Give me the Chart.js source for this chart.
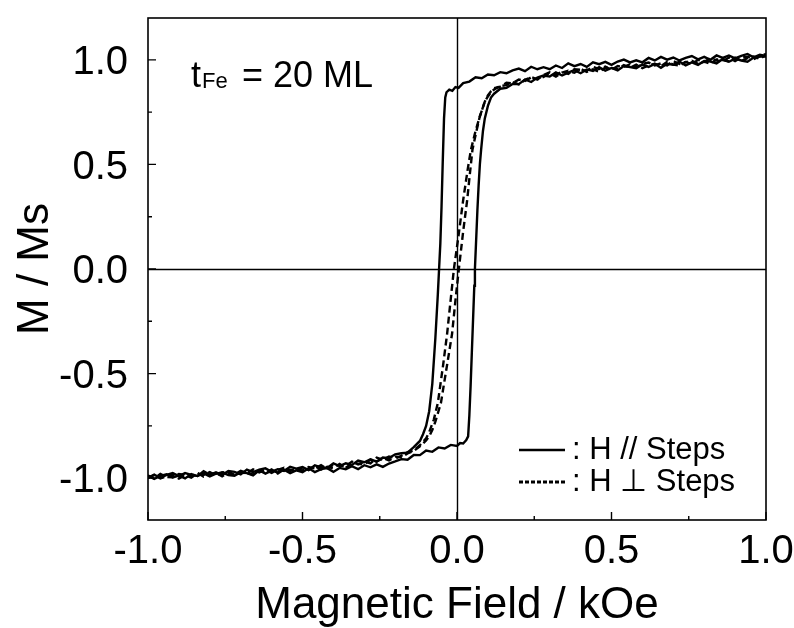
<!DOCTYPE html>
<html>
<head>
<meta charset="utf-8">
<script src="https://cdn.jsdelivr.net/npm/chart.js@4/dist/chart.umd.min.js"></script>
<style>
  html, body { margin: 0; padding: 0; background: #fff; }
  #wrap { width: 794px; height: 628px; }
</style>
</head>
<body>
<div id="wrap"><canvas id="loop" width="794" height="628"></canvas></div>
<script>
// Axis ticks
const xTicks = [-1.0, -0.5, 0.0, 0.5, 1.0];
const xMinorTicks = [-0.75, -0.25, 0.25, 0.75];
const yTicks = [-1.0, -0.5, 0.0, 0.5, 1.0];
const yMinorTicks = [-0.75, -0.25, 0.25, 0.75];

// Field grids of the saturated tails (kOe)
const negTailH = [-1.00,-0.98,-0.96,-0.94,-0.92,-0.90,-0.88,-0.86,-0.84,-0.82,-0.80,-0.78,-0.76,-0.74,-0.72,-0.70,-0.68,-0.66,-0.64,-0.62,-0.60,-0.58,-0.56,-0.54,-0.52,-0.50,-0.48,-0.46,-0.44,-0.42,-0.40,-0.38,-0.36,-0.34,-0.32,-0.30,-0.28,-0.26,-0.24,-0.22,-0.20];
const posTailH = [0.20,0.22,0.24,0.26,0.28,0.30,0.32,0.34,0.36,0.38,0.40,0.42,0.44,0.46,0.48,0.50,0.52,0.54,0.56,0.58,0.60,0.62,0.64,0.66,0.68,0.70,0.72,0.74,0.76,0.78,0.80,0.82,0.84,0.86,0.88,0.90,0.92,0.94,0.96,0.98,1.00];

// H // Steps, decreasing-field branch
const parDownNeg = [-0.998,-0.983,-0.999,-0.984,-0.976,-0.990,-0.976,-0.984,-0.990,-0.967,-0.984,-0.972,-0.985,-0.966,-0.970,-0.982,-0.959,-0.971,-0.959,-0.953,-0.969,-0.957,-0.966,-0.946,-0.955,-0.947,-0.961,-0.939,-0.948,-0.951,-0.929,-0.942,-0.929,-0.937,-0.916,-0.924,-0.910,-0.921,-0.901,-0.904,-0.886];
const parDownCoreH = [-0.18,-0.16,-0.14,-0.12,-0.11,-0.10,-0.09,-0.08,-0.07,-0.062,-0.058,-0.054,-0.050,-0.046,-0.042,-0.038,-0.034,-0.025,-0.015,-0.005,0.005,0.02,0.04,0.06,0.08,0.10,0.12,0.14,0.16,0.18];
const parDownCoreM = [-0.881,-0.878,-0.852,-0.822,-0.79,-0.75,-0.68,-0.55,-0.33,-0.12,0.0,0.12,0.30,0.52,0.72,0.82,0.845,0.858,0.852,0.870,0.866,0.889,0.896,0.917,0.912,0.930,0.926,0.941,0.936,0.950];
const parDownPos = [0.958,0.946,0.967,0.955,0.965,0.955,0.973,0.961,0.983,0.970,0.980,0.966,0.988,0.979,0.990,0.976,0.992,1.001,0.988,0.998,0.988,1.009,0.997,1.014,1.001,1.011,0.997,1.009,1.018,1.002,1.014,1.000,1.021,1.009,1.021,1.007,1.019,1.028,1.012,1.024,1.018];

// H // Steps, increasing-field branch
const parUpNeg = [-0.988,-1.004,-0.989,-0.981,-0.997,-0.988,-1.001,-0.980,-0.990,-0.977,-0.992,-0.979,-0.972,-0.985,-0.988,-0.972,-0.976,-0.987,-0.962,-0.978,-0.964,-0.973,-0.959,-0.976,-0.963,-0.971,-0.953,-0.971,-0.957,-0.952,-0.970,-0.951,-0.957,-0.943,-0.957,-0.938,-0.948,-0.934,-0.946,-0.930,-0.920];
const parUpCoreH = [-0.18,-0.16,-0.14,-0.12,-0.10,-0.08,-0.06,-0.04,-0.02,0.00,0.01,0.02,0.03,0.036,0.040,0.044,0.048,0.052,0.056,0.058,0.062,0.066,0.070,0.074,0.078,0.084,0.090,0.100,0.110,0.120,0.140,0.160,0.180];
const parUpCoreM = [-0.909,-0.912,-0.889,-0.890,-0.868,-0.874,-0.853,-0.858,-0.841,-0.846,-0.832,-0.834,-0.818,-0.80,-0.70,-0.56,-0.40,-0.24,-0.08,0.0,0.14,0.28,0.40,0.50,0.57,0.66,0.72,0.78,0.82,0.838,0.862,0.866,0.885];
const parUpPos = [0.884,0.906,0.894,0.915,0.925,0.920,0.940,0.925,0.939,0.951,0.936,0.954,0.947,0.965,0.948,0.961,0.949,0.970,0.965,0.960,0.978,0.966,0.981,0.962,0.981,0.976,0.991,0.974,0.988,0.976,0.995,0.992,0.983,1.004,0.991,1.006,0.997,0.991,1.011,1.017,1.016];

// H ⊥ Steps, decreasing-field branch
const perpDownNeg = [-0.988,-1.001,-0.980,-0.994,-0.996,-0.980,-0.985,-0.997,-0.978,-0.985,-0.971,-0.987,-0.974,-0.967,-0.986,-0.972,-0.977,-0.958,-0.973,-0.960,-0.975,-0.960,-0.950,-0.966,-0.955,-0.964,-0.947,-0.954,-0.938,-0.957,-0.935,-0.940,-0.943,-0.921,-0.934,-0.921,-0.929,-0.902,-0.912,-0.897,-0.906];
const perpDownCoreH = [-0.18,-0.16,-0.14,-0.12,-0.10,-0.09,-0.075,-0.062,-0.045,-0.032,-0.020,-0.010,0.005,0.020,0.035,0.045,0.060,0.074,0.090,0.100,0.110,0.120,0.140,0.160,0.180];
const perpDownCoreM = [-0.893,-0.876,-0.868,-0.842,-0.81,-0.78,-0.72,-0.64,-0.46,-0.31,-0.14,0.0,0.16,0.33,0.48,0.57,0.66,0.73,0.80,0.83,0.85,0.864,0.872,0.890,0.888];
const perpDownPos = [0.906,0.899,0.916,0.906,0.927,0.940,0.928,0.944,0.933,0.955,0.952,0.948,0.967,0.956,0.968,0.952,0.970,0.966,0.979,0.964,0.980,0.987,0.973,0.983,0.973,0.994,0.980,0.990,0.979,1.000,0.990,1.008,0.997,0.993,1.011,0.994,1.011,1.015,1.003,1.016,1.029];

// H ⊥ Steps, increasing-field branch
const perpUpNeg = [-1.000,-0.985,-1.001,-0.991,-0.983,-1.002,-0.985,-0.991,-0.975,-0.993,-0.983,-0.975,-0.991,-0.975,-0.984,-0.965,-0.976,-0.982,-0.963,-0.975,-0.958,-0.978,-0.958,-0.959,-0.967,-0.949,-0.960,-0.942,-0.959,-0.946,-0.952,-0.932,-0.950,-0.930,-0.931,-0.935,-0.911,-0.920,-0.904,-0.915,-0.897];
const perpUpCoreH = [-0.18,-0.16,-0.14,-0.12,-0.10,-0.09,-0.08,-0.07,-0.06,-0.052,-0.040,-0.030,-0.016,-0.005,0.006,0.020,0.033,0.042,0.050,0.060,0.074,0.090,0.100,0.110,0.120,0.140,0.160,0.180];
const perpUpCoreM = [-0.900,-0.882,-0.870,-0.848,-0.82,-0.80,-0.77,-0.73,-0.68,-0.64,-0.53,-0.44,-0.31,-0.15,0.0,0.18,0.33,0.46,0.57,0.64,0.73,0.80,0.825,0.845,0.858,0.875,0.879,0.893];
const perpUpPos = [0.883,0.904,0.918,0.907,0.918,0.935,0.920,0.939,0.948,0.938,0.957,0.942,0.955,0.943,0.963,0.961,0.955,0.975,0.962,0.977,0.960,0.974,0.981,0.970,0.990,0.977,0.973,0.989,0.996,0.981,0.991,0.981,1.002,0.999,0.992,1.011,0.994,1.008,1.016,1.005,1.024];

const legendLabels = [': H // Steps', ': H \u22A5 Steps'];

function branch(negM, coreH, coreM, posM) {
  const pts = [];
  negTailH.forEach((h, i) => pts.push({ x: h, y: negM[i] }));
  coreH.forEach((h, i) => pts.push({ x: h, y: coreM[i] }));
  posTailH.forEach((h, i) => pts.push({ x: h, y: posM[i] }));
  return pts;
}

const FONT = '"Liberation Sans", Arial, Helvetica, sans-serif';
const DASH = [7, 4];

function lineSet(data, dashed) {
  return {
    data,
    showLine: true,
    borderColor: '#000',
    borderWidth: 2.4,
    borderDash: dashed ? DASH : [],
    pointRadius: 0,
    pointHoverRadius: 0,
    tension: 0,
    fill: false
  };
}

// Frame, inward ticks, zero lines, labels, titles, annotation and key
const framePlugin = {
  id: 'frame',
  beforeDatasetsDraw(chart) {
    const { ctx, chartArea: a, scales: { x, y } } = chart;
    ctx.save();
    ctx.strokeStyle = '#000';
    ctx.lineWidth = 1.4;
    const x0 = Math.round(x.getPixelForValue(0)) + 0.5;
    const y0 = Math.round(y.getPixelForValue(0)) + 0.5;
    ctx.beginPath();
    ctx.moveTo(x0, a.top); ctx.lineTo(x0, a.bottom);
    ctx.moveTo(a.left, y0); ctx.lineTo(a.right, y0);
    ctx.stroke();
    ctx.restore();
  },
  afterDatasetsDraw(chart) {
    const { ctx, chartArea: a, scales: { x, y } } = chart;
    ctx.save();
    ctx.strokeStyle = '#000';
    ctx.fillStyle = '#000';
    ctx.lineWidth = 1.6;
    ctx.strokeRect(a.left, a.top, a.right - a.left, a.bottom - a.top);

    ctx.lineWidth = 1.4;
    ctx.beginPath();
    xTicks.forEach(v => { const p = x.getPixelForValue(v); ctx.moveTo(p, a.bottom); ctx.lineTo(p, a.bottom - 8); });
    xMinorTicks.forEach(v => { const p = x.getPixelForValue(v); ctx.moveTo(p, a.bottom); ctx.lineTo(p, a.bottom - 4); });
    yTicks.forEach(v => { const p = y.getPixelForValue(v); ctx.moveTo(a.left, p); ctx.lineTo(a.left + 8, p); });
    yMinorTicks.forEach(v => { const p = y.getPixelForValue(v); ctx.moveTo(a.left, p); ctx.lineTo(a.left + 4, p); });
    ctx.stroke();

    // tick labels
    const tickSize = 40;
    ctx.font = `${tickSize}px ${FONT}`;
    ctx.textBaseline = 'alphabetic';
    ctx.textAlign = 'center';
    xTicks.forEach(v => ctx.fillText(v.toFixed(1), x.getPixelForValue(v), 563));
    ctx.textAlign = 'right';
    yTicks.forEach(v => ctx.fillText(v.toFixed(1), 128, y.getPixelForValue(v) + tickSize * 0.358));

    // axis titles
    ctx.font = `44px ${FONT}`;
    ctx.textAlign = 'center';
    ctx.fillText('Magnetic Field / kOe', (a.left + a.right) / 2, 618);
    ctx.save();
    ctx.translate(48, (a.top + a.bottom) / 2);
    ctx.rotate(-Math.PI / 2);
    ctx.fillText('M / Ms', 0, 0);
    ctx.restore();

    // film thickness annotation
    ctx.textAlign = 'left';
    ctx.font = `36px ${FONT}`;
    ctx.fillText('t', 191, 87);
    const tw = ctx.measureText('t').width;
    ctx.font = `22px ${FONT}`;
    ctx.fillText('Fe', 191 + tw + 1, 88);
    ctx.font = `36px ${FONT}`;
    ctx.fillText('= 20 ML', 242, 87);

    // key
    ctx.lineWidth = 2.4;
    ctx.setLineDash([]);
    ctx.beginPath(); ctx.moveTo(519, 450); ctx.lineTo(565, 450); ctx.stroke();
    ctx.setLineDash([4, 2]);
    ctx.lineWidth = 3;
    ctx.beginPath(); ctx.moveTo(519, 482); ctx.lineTo(565, 482); ctx.stroke();
    ctx.setLineDash([]);
    ctx.font = `31px ${FONT}`;
    ctx.fillText(legendLabels[0], 572, 459);
    ctx.fillText(legendLabels[1], 572, 491);
    ctx.restore();
  }
};

new Chart(document.getElementById('loop'), {
  type: 'scatter',
  data: {
    datasets: [
      lineSet(branch(perpDownNeg, perpDownCoreH, perpDownCoreM, perpDownPos), true),
      lineSet(branch(perpUpNeg, perpUpCoreH, perpUpCoreM, perpUpPos), true),
      lineSet(branch(parDownNeg, parDownCoreH, parDownCoreM, parDownPos), false),
      lineSet(branch(parUpNeg, parUpCoreH, parUpCoreM, parUpPos), false)
    ]
  },
  options: {
    responsive: false,
    devicePixelRatio: 1,
    animation: false,
    layout: { padding: { left: 0, top: 18, right: 28, bottom: 0 } },
    plugins: { legend: { display: false }, tooltip: { enabled: false } },
    scales: {
      x: {
        type: 'linear', min: -1, max: 1,
        grid: { display: false }, border: { display: false },
        ticks: { display: false },
        afterBuildTicks: s => { s.ticks = xTicks.map(v => ({ value: v })); },
        afterFit: s => { s.height = 108; }
      },
      y: {
        type: 'linear', min: -1.2, max: 1.2,
        grid: { display: false }, border: { display: false },
        ticks: { display: false },
        afterBuildTicks: s => { s.ticks = yTicks.map(v => ({ value: v })); },
        afterFit: s => { s.width = 148; }
      }
    }
  },
  plugins: [framePlugin]
});
</script>
</body>
</html>
